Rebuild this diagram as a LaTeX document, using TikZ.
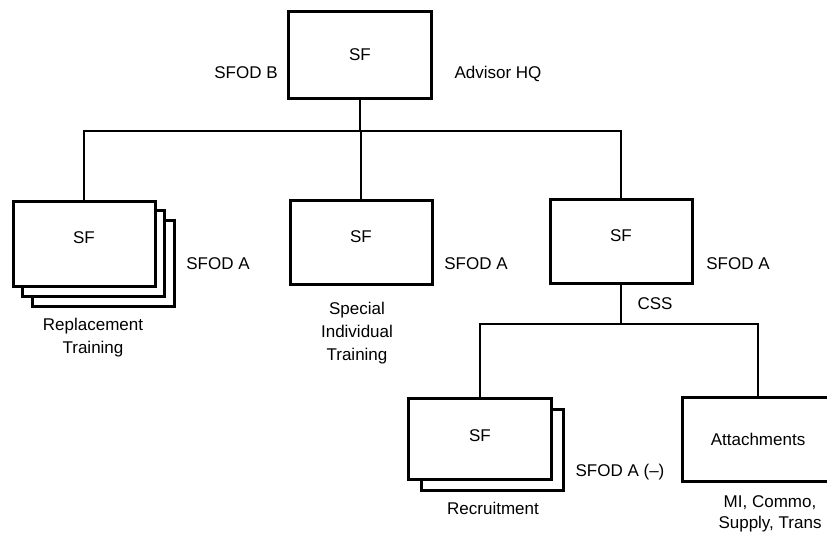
\documentclass[tikz,border=0pt]{standalone}
\usepackage{fontspec}
\setmainfont{Liberation Sans}
\begin{document}
\begin{tikzpicture}[x=1pt,y=-1pt,
  every node/.style={font=\fontsize{17}{23}\selectfont},
  unitbox/.style={draw,line width=3pt,fill=white,inner sep=0pt,minimum width=142pt,minimum height=85pt,text height=12.3pt},
  backbox/.style={draw,line width=3pt,fill=white},
  conn/.style={line width=2.8pt},
  lbl/.style={inner sep=0pt,text height=12.3pt,text depth=0pt},
  mlbl/.style={inner sep=0pt,align=center}]
\useasboundingbox (0,0) rectangle (827,533);
\clip (0,0) rectangle (827,533);
% back boxes of stacked units
\draw[backbox] (32,220) rectangle (174,306);
\draw[backbox] (22,210) rectangle (164,296);
\draw[backbox] (421,409) rectangle (563,490);
% units
\node[unitbox,minimum width=143pt,minimum height=87pt,text depth=0pt] (top) at (360,54.5) {SF};
\node[unitbox,text depth=12pt] (rep) at (84,243.5) {SF};
\node[unitbox,minimum height=84pt,text depth=12pt] (spec) at (361,242) {SF};
\node[unitbox,minimum height=84pt,text depth=12pt] (sfa) at (621,241) {SF};
\node[unitbox,minimum width=143pt,minimum height=81pt,text depth=6pt] (rec) at (480,438.5) {SF};
\node[unitbox,minimum width=152pt,minimum height=84pt,text depth=0pt] (att) at (758,439) {Attachments};
% bus coordinates
\coordinate (bus1) at (361,131);
\coordinate (bus2) at (621,324);
% connectors
\draw[conn] (top.south) -- (top.south |- bus1);
\draw[conn] (rep.north) |- (sfa.north |- bus1) -- (sfa.north);
\draw[conn] (spec.north) -- (spec.north |- bus1);
\draw[conn] (sfa.south) -- (sfa.south |- bus2);
\draw[conn] (rec.north) |- (att.north |- bus2) -- (att.north);
% labels
\node[lbl] (lb1) at (246,72) {SFOD B};
\node[lbl] (lb2) at (498,72) {Advisor HQ};
\node[lbl] (lb3) at (218,263) {SFOD A};
\node[lbl] (lb4) at (476,263) {SFOD A};
\node[lbl] (lb5) at (738,263) {SFOD A};
\node[lbl] (lb6) at (655,303) {CSS};
\node[mlbl] (lb7) at (93,338) {Replacement\\Training};
\node[mlbl] (lb8) at (357,333) {Special\\Individual\\Training};
\node[lbl] (lb9) at (493,508) {Recruitment};
\node[lbl] (lb10) at (620,470) {SFOD A (–)};
\node[mlbl,font=\fontsize{17}{21}\selectfont] (lb11) at (770,514) {MI, Commo,\\Supply, Trans};
\end{tikzpicture}
\end{document}
